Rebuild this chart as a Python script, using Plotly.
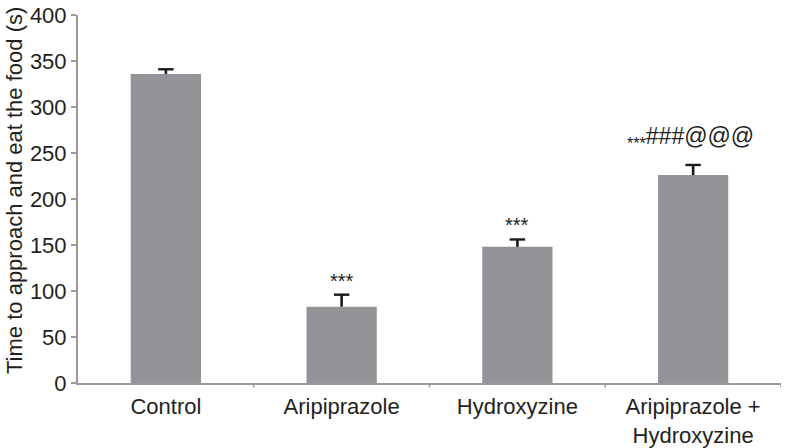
import plotly.graph_objects as go

categories = ["Control", "Aripiprazole", "Hydroxyzine", "Aripiprazole +<br>Hydroxyzine"]
means = [336, 83, 148, 226]
errors = [5, 13, 8, 11]
sig_labels = ["", "***", "***", "<sub>***</sub>###@@@"]
y_ticks = [0, 50, 100, 150, 200, 250, 300, 350, 400]

FONT = "Liberation Sans, Arial, sans-serif"
TXT = "#231f20"
axis_col = "#9a9a9a"

fig = go.Figure()
fig.add_trace(go.Bar(
    x=categories, y=means,
    marker=dict(color="#929497", line=dict(width=0)),
    width=0.4, hoverinfo="skip",
))

# upper-only error bars: stem + cap
stem_x, stem_y = [], []
for c, m, e in zip(categories, means, errors):
    stem_x += [c, c, None]
    stem_y += [m, m + e, None]
fig.add_trace(go.Scatter(x=stem_x, y=stem_y, mode="lines",
                         line=dict(color="#1a1a1a", width=2.6), hoverinfo="skip"))
fig.add_trace(go.Scatter(x=categories, y=[m + e for m, e in zip(means, errors)], mode="markers",
                         marker=dict(symbol="line-ew", size=11, line=dict(color="#1a1a1a", width=2.4)),
                         hoverinfo="skip"))

for c, m, e, s in zip(categories, means, errors, sig_labels):
    if s:
        big = "#" in s
        fig.add_annotation(x=c, y=m + e, text=s, showarrow=False,
                           yanchor="bottom", yshift=(11 if big else 1), xshift=(-3 if big else 0),
                           font=dict(family=FONT, size=(23 if big else 20), color=TXT))

fig.add_annotation(text="Time to approach and eat the food (s)", xref="paper", yref="paper",
                   x=0, y=0.5, xshift=-64, yshift=8, textangle=-90, showarrow=False,
                   xanchor="center", yanchor="middle",
                   font=dict(family=FONT, size=22, color=TXT))

fig.update_layout(
    width=787, height=448,
    margin=dict(l=78, r=6, t=15, b=65),
    paper_bgcolor="white", plot_bgcolor="white",
    showlegend=False,
    font=dict(family=FONT, color=TXT),
    xaxis=dict(showline=True, linecolor=axis_col, linewidth=2, automargin=False,
               tickfont=dict(size=22, color=TXT), ticklabelstandoff=3,
               ticks="", showgrid=False, range=[-0.5, 3.5]),
    yaxis=dict(range=[0, 400], tickvals=y_ticks, showline=True, linecolor=axis_col, linewidth=2,
               automargin=False,
               ticks="outside", ticklen=5, tickcolor=axis_col, tickwidth=2,
               tickfont=dict(size=22, color=TXT), showgrid=False, zeroline=False),
)
for i in range(1, 5):
    fig.add_shape(type="line", xref="x", yref="paper", x0=i - 0.5, x1=i - 0.5, y0=0, y1=-0.012,
                  line=dict(color=axis_col, width=1.5))

fig.write_html("out.html", config={"displayModeBar": False},
               post_script="document.body.style.margin='0';")
